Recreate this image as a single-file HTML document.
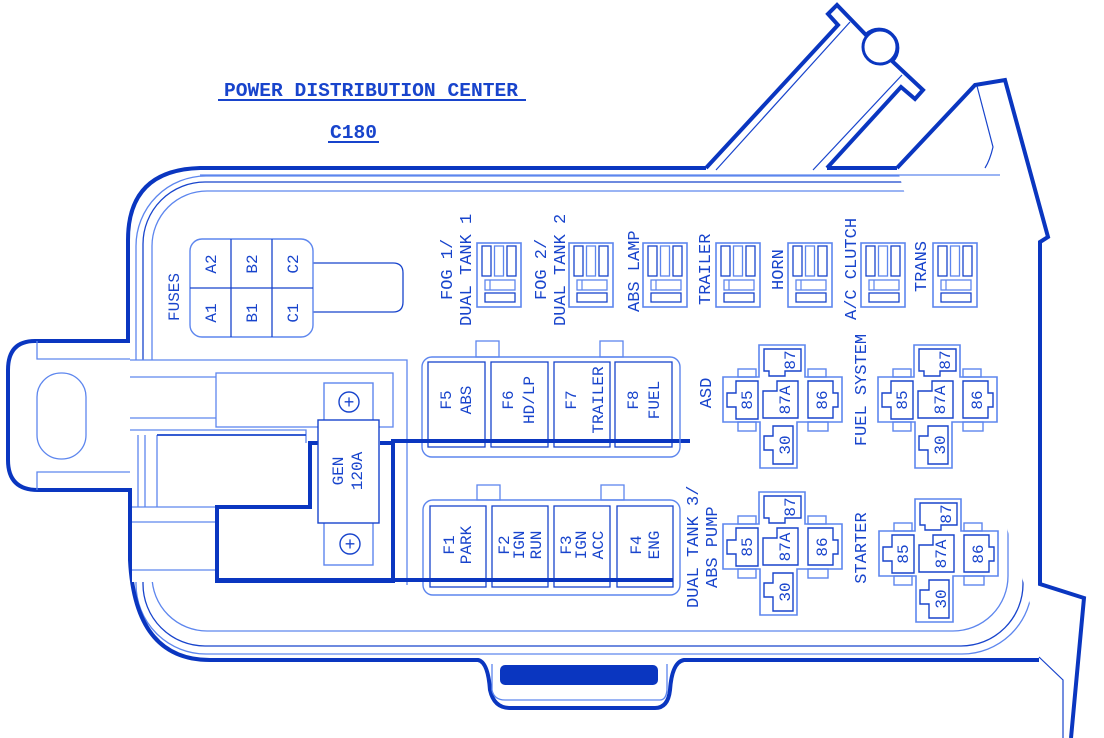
<!DOCTYPE html>
<html><head><meta charset="utf-8"><style>
html,body{margin:0;padding:0;background:#fff;}
svg{display:block;}
text{font-family:"Liberation Mono",monospace;fill:#1844cc;}
</style></head><body>
<svg width="1104" height="738" viewBox="0 0 1104 738" xmlns="http://www.w3.org/2000/svg">
<defs>
<g id="relay">
  <path d="M36,0H82V32H119V77H74V123H37V77H0V32H36Z" fill="#fff" stroke="#5d86ee" stroke-width="1.6"/>
  <rect x="15" y="24" width="18" height="8" fill="none" stroke="#5d86ee" stroke-width="1.4"/>
  <rect x="85" y="24" width="18" height="8" fill="none" stroke="#5d86ee" stroke-width="1.4"/>
  <rect x="15" y="77" width="18" height="9" fill="none" stroke="#5d86ee" stroke-width="1.4"/>
  <rect x="85" y="77" width="20" height="9" fill="none" stroke="#5d86ee" stroke-width="1.4"/>
  <path d="M41,4H78V26H62V31H46V26H41Z" fill="none" stroke="#1844cc" stroke-width="1.4"/>
  <path d="M13,36H35V74H13V62H4V48H13Z" fill="none" stroke="#1844cc" stroke-width="1.4"/>
  <path d="M54,36H75V73H40V46H54Z" fill="none" stroke="#1844cc" stroke-width="1.4"/>
  <path d="M85,36H110V48H115V62H110V73H85Z" fill="none" stroke="#1844cc" stroke-width="1.4"/>
  <path d="M50,81H70V119H50V105H41V91H50Z" fill="none" stroke="#1844cc" stroke-width="1.4"/>
  <g font-size="16" text-anchor="middle">
    <text transform="translate(66,15) rotate(-90)" dy="6">87</text>
    <text transform="translate(23,55) rotate(-90)" dy="6">85</text>
    <text transform="translate(61,55) rotate(-90)" dy="6">87A</text>
    <text transform="translate(98,55) rotate(-90)" dy="6">86</text>
    <text transform="translate(61,100) rotate(-90)" dy="6">30</text>
  </g>
</g>
<g id="mini">
  <rect x="0" y="0" width="44" height="64" fill="#fff" stroke="#5d86ee" stroke-width="1.6"/>
  <rect x="5" y="3" width="9" height="30" fill="none" stroke="#1844cc" stroke-width="1.3"/>
  <rect x="17.5" y="3" width="9" height="30" fill="none" stroke="#5d86ee" stroke-width="1.3"/>
  <rect x="30" y="3" width="9" height="30" fill="none" stroke="#1844cc" stroke-width="1.3"/>
  <rect x="8" y="37" width="30" height="10" fill="none" stroke="#5d86ee" stroke-width="1.3"/>
  <rect x="8" y="50" width="30" height="9" fill="none" stroke="#1844cc" stroke-width="1.3"/>
  <line x1="13" y1="37" x2="13" y2="47" stroke="#5d86ee" stroke-width="1.2"/>
</g>
</defs>

<g fill="none" stroke-width="1.3">
<rect x="136" y="176" width="896" height="478" rx="70" stroke="#5d86ee"/>
<rect x="143" y="182" width="880" height="464" rx="62" stroke="#1844cc"/>
<rect x="152" y="191" width="856" height="440" rx="55" stroke="#5d86ee"/>
</g>

<g fill="#fff" stroke="#0a36c0" stroke-width="4" stroke-linejoin="miter">
<path d="M706,168L838,25L828,14L837,5L866,35A18,18 0 0 1 892,61L923,90L915,99L901,87L827,168"/>
<circle cx="880" cy="47" r="17" stroke-width="3"/>
<path d="M897,168L975,85L1005,80L1048,237L1040,242V584L1084,598L1071,738"/>
</g>
<g stroke="#1844cc" stroke-width="1.2" fill="none">
<line x1="716" y1="170" x2="850" y2="22"/>
<line x1="813" y1="170" x2="902" y2="75"/>
<path d="M977,86L993,147Q990,160 985,168"/>
<path d="M1039,657L1063,680V738"/>
</g>

<path d="M706,168H200Q128,170 128,240V341H35Q8,341 8,370V460Q8,490 38,490H130V560Q135,660 210,660H478Q488,662 490,690Q494,708 510,708H655Q668,708 670,690Q672,662 684,660H1039" fill="none" stroke="#0a36c0" stroke-width="4"/>
<line x1="827" y1="168" x2="897" y2="168" stroke="#0a36c0" stroke-width="4"/>
<line x1="200" y1="175" x2="1000" y2="175" stroke="#5d86ee" stroke-width="1.2"/>
<path d="M492,664V690Q494,700 505,700H660Q666,700 667,690V664" fill="none" stroke="#5d86ee" stroke-width="1.3"/>
<rect x="500" y="665" width="158" height="20" rx="5" fill="#0a36c0"/>

<g fill="none" stroke="#5d86ee" stroke-width="1.3">
<path d="M37,341V359H130"/>
<path d="M37,490V472H130"/>
<rect x="37" y="373" width="49" height="86" rx="24"/>
</g>
<rect x="132" y="360" width="274" height="222" fill="#fff"/>
<g fill="none" stroke="#5d86ee" stroke-width="1.3">
<path d="M130,360H407V585"/>
<path d="M130,377H216"/>
<rect x="216" y="373" width="177" height="54"/>
<path d="M130,418H216"/>
<path d="M130,430H306V443"/>
<line x1="138" y1="435" x2="138" y2="507"/>
<line x1="145" y1="435" x2="145" y2="507"/>
<line x1="157" y1="435" x2="157" y2="507"/>
<path d="M132,507H217"/>
<path d="M132,522H217V570"/>
<path d="M132,570H217"/>
</g>
<line x1="157" y1="435" x2="306" y2="435" stroke="#1844cc" stroke-width="1.8"/>
<path d="M318,443H310V507H217V581H393V441H690" fill="none" stroke="#0a36c0" stroke-width="4"/>
<line x1="380" y1="443" x2="393" y2="443" stroke="#0a36c0" stroke-width="4"/>
<rect x="324" y="383" width="49" height="182" fill="#fff" stroke="#5d86ee" stroke-width="1.4"/>
<rect x="318" y="420" width="61" height="103" fill="#fff" stroke="#1844cc" stroke-width="1.4"/>
<circle cx="349" cy="402" r="10" fill="none" stroke="#1844cc" stroke-width="1.4"/>
<circle cx="350" cy="544" r="10" fill="none" stroke="#1844cc" stroke-width="1.4"/>
<text x="349" y="408" font-size="18" text-anchor="middle">+</text>
<text x="350" y="550" font-size="18" text-anchor="middle">+</text>
<g font-size="16" text-anchor="middle">
<text transform="translate(337,471) rotate(-90)" dy="6">GEN</text>
<text transform="translate(356,471) rotate(-90)" dy="6">120A</text>
</g>

<path d="M313,263H393Q403,263 403,273V302Q403,312 393,312H313" fill="none" stroke="#1844cc" stroke-width="1.3"/>
<rect x="190" y="239" width="123" height="98" rx="12" fill="#fff" stroke="#5d86ee" stroke-width="1.4"/>
<g stroke="#1844cc" stroke-width="1.3"><line x1="231" y1="239" x2="231" y2="337"/><line x1="272" y1="239" x2="272" y2="337"/><line x1="190" y1="288" x2="313" y2="288"/></g>
<g font-size="16" text-anchor="middle">
<text transform="translate(173,297) rotate(-90)" dy="6">FUSES</text>
<text transform="translate(210,264) rotate(-90)" dy="6">A2</text>
<text transform="translate(210,313) rotate(-90)" dy="6">A1</text>
<text transform="translate(251,264) rotate(-90)" dy="6">B2</text>
<text transform="translate(251,313) rotate(-90)" dy="6">B1</text>
<text transform="translate(292,264) rotate(-90)" dy="6">C2</text>
<text transform="translate(292,313) rotate(-90)" dy="6">C1</text>
</g>

<use href="#mini" x="477" y="243"/>
<use href="#mini" x="569" y="243"/>
<use href="#mini" x="643" y="243"/>
<use href="#mini" x="716" y="243"/>
<use href="#mini" x="788" y="243"/>
<use href="#mini" x="861" y="243"/>
<use href="#mini" x="933" y="243"/>
<g font-size="17" text-anchor="start">
<text transform="translate(446,300) rotate(-90)" dy="6">FOG 1/</text>
<text transform="translate(465,326) rotate(-90)" dy="6">DUAL TANK 1</text>
<text transform="translate(540,300) rotate(-90)" dy="6">FOG 2/</text>
<text transform="translate(559,326) rotate(-90)" dy="6">DUAL TANK 2</text>
<text transform="translate(633,312) rotate(-90)" dy="6">ABS LAMP</text>
<text transform="translate(704,305) rotate(-90)" dy="6">TRAILER</text>
<text transform="translate(777,290) rotate(-90)" dy="6">HORN</text>
<text transform="translate(850,320) rotate(-90)" dy="6">A/C CLUTCH</text>
<text transform="translate(920,292) rotate(-90)" dy="6">TRANS</text>
</g>

<rect x="476" y="341" width="23" height="16" fill="#fff" stroke="#5d86ee" stroke-width="1.3"/>
<rect x="600" y="341" width="23" height="16" fill="#fff" stroke="#5d86ee" stroke-width="1.3"/>
<rect x="422" y="357" width="258" height="100" rx="10" fill="none" stroke="#5d86ee" stroke-width="1.4"/>
<g fill="none" stroke="#1844cc" stroke-width="1.3">
<rect x="428" y="362" width="57" height="85"/>
<rect x="491" y="362" width="57" height="85"/>
<rect x="554" y="362" width="56" height="85"/>
<rect x="615" y="362" width="57" height="85"/>
</g>
<rect x="477" y="485" width="23" height="15" fill="#fff" stroke="#5d86ee" stroke-width="1.3"/>
<rect x="601" y="485" width="23" height="15" fill="#fff" stroke="#5d86ee" stroke-width="1.3"/>
<rect x="423" y="500" width="257" height="95" rx="10" fill="none" stroke="#5d86ee" stroke-width="1.4"/>
<g fill="none" stroke="#1844cc" stroke-width="1.3">
<rect x="430" y="506" width="56" height="81"/>
<rect x="492" y="506" width="56" height="81"/>
<rect x="554" y="506" width="56" height="81"/>
<rect x="617" y="506" width="56" height="81"/>
</g>
<line x1="393" y1="441" x2="673" y2="441" stroke="#0a36c0" stroke-width="4"/>
<line x1="217" y1="580" x2="673" y2="580" stroke="#0a36c0" stroke-width="4"/>

<g font-size="16" text-anchor="middle">
<text transform="translate(445,400) rotate(-90)" dy="6">F5</text>
<text transform="translate(465,400) rotate(-90)" dy="6">ABS</text>
<text transform="translate(507,400) rotate(-90)" dy="6">F6</text>
<text transform="translate(528,400) rotate(-90)" dy="6">HD/LP</text>
<text transform="translate(570,400) rotate(-90)" dy="6">F7</text>
<text transform="translate(597,400) rotate(-90)" dy="6">TRAILER</text>
<text transform="translate(632,400) rotate(-90)" dy="6">F8</text>
<text transform="translate(653,400) rotate(-90)" dy="6">FUEL</text>

<text transform="translate(448,545) rotate(-90)" dy="6">F1</text>
<text transform="translate(465,545) rotate(-90)" dy="6">PARK</text>
<text transform="translate(503,545) rotate(-90)" dy="6">F2</text>
<text transform="translate(518,545) rotate(-90)" dy="6">IGN</text>
<text transform="translate(535,545) rotate(-90)" dy="6">RUN</text>
<text transform="translate(565,545) rotate(-90)" dy="6">F3</text>
<text transform="translate(580,545) rotate(-90)" dy="6">IGN</text>
<text transform="translate(597,545) rotate(-90)" dy="6">ACC</text>
<text transform="translate(635,545) rotate(-90)" dy="6">F4</text>
<text transform="translate(653,545) rotate(-90)" dy="6">ENG</text>
</g>

<use href="#relay" x="723" y="345"/>
<use href="#relay" x="878" y="345"/>
<use href="#relay" x="723" y="492"/>
<use href="#relay" x="879" y="499"/>
<g font-size="17">
<text transform="translate(705,393) rotate(-90)" dy="6" text-anchor="middle">ASD</text>
<text transform="translate(860,390) rotate(-90)" dy="6" text-anchor="middle">FUEL SYSTEM</text>
<text transform="translate(692,608) rotate(-90)" dy="6" text-anchor="start">DUAL TANK 3/</text>
<text transform="translate(711,588) rotate(-90)" dy="6" text-anchor="start">ABS PUMP</text>
<text transform="translate(860,548) rotate(-90)" dy="6" text-anchor="middle">STARTER</text>
</g>

<text x="224" y="96" font-size="19" font-weight="bold" textLength="294" lengthAdjust="spacingAndGlyphs">POWER DISTRIBUTION CENTER</text>
<line x1="218" y1="100" x2="526" y2="100" stroke="#1844cc" stroke-width="2"/>
<text x="330" y="138" font-size="19" font-weight="bold" textLength="47" lengthAdjust="spacingAndGlyphs">C180</text>
<line x1="328" y1="142" x2="379" y2="142" stroke="#1844cc" stroke-width="2"/>
</svg>
</body></html>
